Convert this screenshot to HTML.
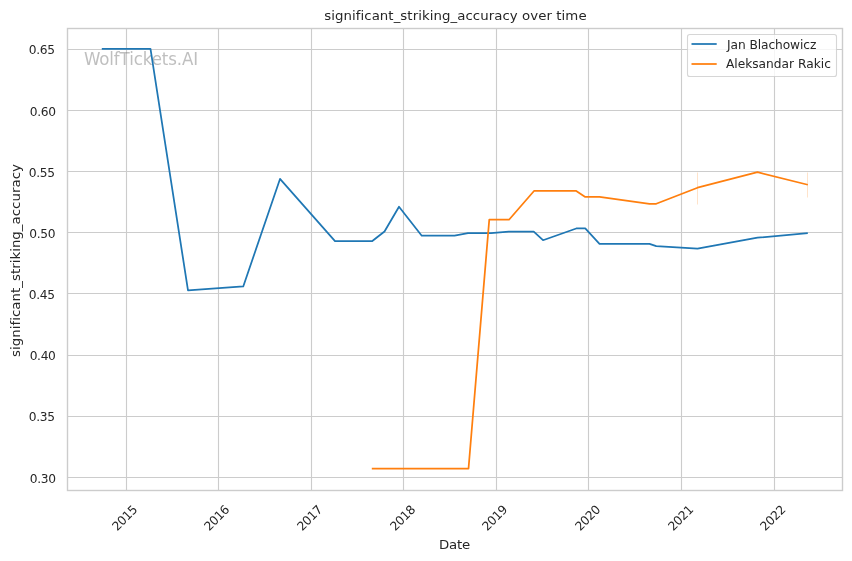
<!DOCTYPE html>
<html lang="en"><head><meta charset="utf-8"><title>significant_striking_accuracy over time</title>
<style>
html,body{margin:0;padding:0;background:#fff;}
body{width:852px;height:561px;overflow:hidden;}
svg{display:block;}
text{font-family:"DejaVu Sans","Liberation Sans",sans-serif;fill:#262626;font-variant-ligatures:none;font-kerning:normal;}
.tk{font-size:12.22px;}
.lb{font-size:13.33px;}
.g{stroke:#cccccc;stroke-width:1.11;fill:none;}
</style></head><body>
<svg width="852" height="561" viewBox="0 0 852 561">
<rect x="0" y="0" width="852" height="561" fill="#ffffff"/>
<g class="g">
<line x1="126.5" y1="28.5" x2="126.5" y2="490.5"/>
<line x1="218.5" y1="28.5" x2="218.5" y2="490.5"/>
<line x1="311.5" y1="28.5" x2="311.5" y2="490.5"/>
<line x1="403.5" y1="28.5" x2="403.5" y2="490.5"/>
<line x1="496.5" y1="28.5" x2="496.5" y2="490.5"/>
<line x1="588.5" y1="28.5" x2="588.5" y2="490.5"/>
<line x1="681.5" y1="28.5" x2="681.5" y2="490.5"/>
<line x1="774.5" y1="28.5" x2="774.5" y2="490.5"/>
<line x1="67.5" y1="49.5" x2="842.5" y2="49.5"/>
<line x1="67.5" y1="110.5" x2="842.5" y2="110.5"/>
<line x1="67.5" y1="171.5" x2="842.5" y2="171.5"/>
<line x1="67.5" y1="232.5" x2="842.5" y2="232.5"/>
<line x1="67.5" y1="293.5" x2="842.5" y2="293.5"/>
<line x1="67.5" y1="355.5" x2="842.5" y2="355.5"/>
<line x1="67.5" y1="416.5" x2="842.5" y2="416.5"/>
<line x1="67.5" y1="477.5" x2="842.5" y2="477.5"/>
</g>
<text transform="translate(83.9,65) scale(1,1.045)" x="0" y="0" textLength="114.2" lengthAdjust="spacing" style="font-size:16.67px;fill:#808080;fill-opacity:0.5">WolfTickets.AI</text>
<g stroke="#ff7f0e" stroke-opacity="0.22" stroke-width="1">
<line x1="697.5" y1="172.5" x2="697.5" y2="204.5"/><line x1="807.5" y1="172.5" x2="807.5" y2="197.5"/></g>
<polyline points="101.8,48.9 150.5,48.9 188,290.45 243.25,286.45 280,178.95 335,241.2 372,241.2 384.5,231.45 399,206.7 421.75,235.7 454.5,235.7 468,233.2 491,233.2 508.75,231.7 533.75,231.7 543,240.2 576.25,228.45 585.25,228.45 599.5,243.95 649.5,243.95 656.25,246.2 697.5,248.7 757.5,237.7 807.8,233.2" fill="none" stroke="#1f77b4" stroke-width="1.75" stroke-linejoin="round" stroke-linecap="butt"/>
<polyline points="371.8,468.7 468.5,468.7 489.25,219.7 509,219.7 534,190.95 576.25,190.95 585.25,196.95 599.5,196.95 649.5,203.8 656.25,203.8 697.5,187.7 757.5,172.2 807.8,184.75" fill="none" stroke="#ff7f0e" stroke-width="1.75" stroke-linejoin="round" stroke-linecap="butt"/>
<rect x="67.5" y="28.5" width="775.0" height="462.0" fill="none" stroke="#cccccc" stroke-width="1.39"/>
<text class="tk" x="55.05" y="54" text-anchor="end" textLength="26.2" lengthAdjust="spacing">0.65</text>
<text class="tk" x="55.95" y="116" text-anchor="end" textLength="26.2" lengthAdjust="spacing">0.60</text>
<text class="tk" x="55.05" y="177" text-anchor="end" textLength="26.2" lengthAdjust="spacing">0.55</text>
<text class="tk" x="55.45" y="238" text-anchor="end" textLength="26.2" lengthAdjust="spacing">0.50</text>
<text class="tk" x="55.05" y="299" text-anchor="end" textLength="26.2" lengthAdjust="spacing">0.45</text>
<text class="tk" x="55.85" y="360" text-anchor="end" textLength="26.2" lengthAdjust="spacing">0.40</text>
<text class="tk" x="55.05" y="421" text-anchor="end" textLength="26.2" lengthAdjust="spacing">0.35</text>
<text class="tk" x="56.0" y="483" text-anchor="end" textLength="26.2" lengthAdjust="spacing">0.30</text>
<text class="tk" transform="translate(124.55,517.6) rotate(-45)" x="0" y="4.5" text-anchor="middle" textLength="30" lengthAdjust="spacing">2015</text>
<text class="tk" transform="translate(216.55,517.6) rotate(-45)" x="0" y="4.5" text-anchor="middle" textLength="30" lengthAdjust="spacing">2016</text>
<text class="tk" transform="translate(309.55,517.6) rotate(-45)" x="0" y="4.5" text-anchor="middle" textLength="30" lengthAdjust="spacing">2017</text>
<text class="tk" transform="translate(402.55,517.6) rotate(-45)" x="0" y="4.5" text-anchor="middle" textLength="30" lengthAdjust="spacing">2018</text>
<text class="tk" transform="translate(494.55,517.6) rotate(-45)" x="0" y="4.5" text-anchor="middle" textLength="30" lengthAdjust="spacing">2019</text>
<text class="tk" transform="translate(587.55,517.6) rotate(-45)" x="0" y="4.5" text-anchor="middle" textLength="30" lengthAdjust="spacing">2020</text>
<text class="tk" transform="translate(680.55,517.6) rotate(-45)" x="0" y="4.5" text-anchor="middle" textLength="30" lengthAdjust="spacing">2021</text>
<text class="tk" transform="translate(772.75,517.6) rotate(-45)" x="0" y="4.5" text-anchor="middle" textLength="30" lengthAdjust="spacing">2022</text>
<text class="lb" transform="translate(455.4,20) scale(1,0.93)" x="0" y="0" text-anchor="middle" textLength="262.4" lengthAdjust="spacing">significant_striking_accuracy over time</text>
<text class="lb" transform="translate(454.6,549) scale(1,0.92)" x="0" y="0" text-anchor="middle" textLength="31" lengthAdjust="spacing">Date</text>
<text class="lb" transform="translate(20.1,260.5) rotate(-90) scale(1,0.93)" x="0" y="0" text-anchor="middle" textLength="192.9" lengthAdjust="spacing">significant_striking_accuracy</text>
<rect x="687.5" y="34.5" width="149" height="42" rx="2.3" ry="2.3" fill="#ffffff" fill-opacity="0.8" stroke="#cccccc" stroke-opacity="0.8" stroke-width="1.11"/>
<line x1="691.5" y1="44" x2="716.7" y2="44" stroke="#1f77b4" stroke-width="1.75"/>
<line x1="691.5" y1="64" x2="716.7" y2="64" stroke="#ff7f0e" stroke-width="1.75"/>
<text class="tk" x="727.1" y="48.95" textLength="89.2" lengthAdjust="spacing">Jan Blachowicz</text>
<text class="tk" x="725.9" y="68.1">Aleksandar Rakic</text>
</svg></body></html>
